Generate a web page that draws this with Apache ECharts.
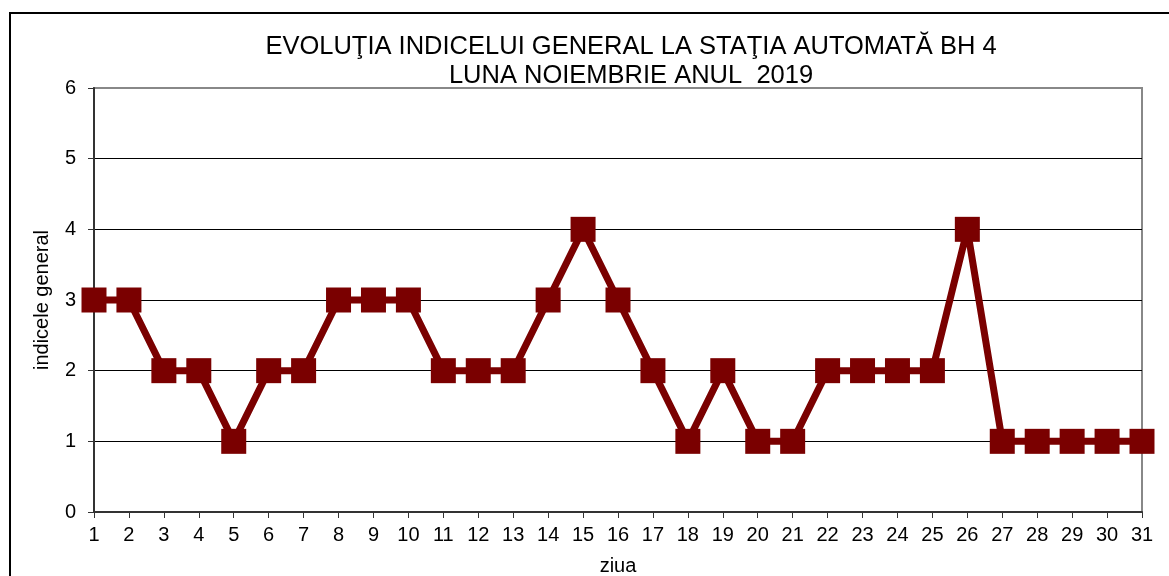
<!DOCTYPE html>
<html>
<head>
<meta charset="utf-8">
<script src="https://cdn.jsdelivr.net/npm/echarts@6/dist/echarts.min.js"></script>
<style>
  html, body { margin: 0; padding: 0; background: #fff; }
  #chart { width: 1169px; height: 576px; }
</style>
</head>
<body>
<div id="chart"></div>
<script>
// zilele lunii si indicele general
var zile = [];
for (var d = 1; d <= 31; d++) zile.push(String(d));
var indice = [3, 3, 2, 2, 1, 2, 2, 3, 3, 3, 2, 2, 2, 3, 4, 3, 2, 1, 2, 1, 1, 2, 2, 2, 2, 4, 1, 1, 1, 1, 1];

var titlu = 'EVOLUŢIA INDICELUI GENERAL LA STAŢIA AUTOMATĂ BH 4\nLUNA NOIEMBRIE ANUL  2019';

var chart = echarts.init(document.getElementById('chart'));
var font = 'Liberation Sans, Arial, sans-serif';

var option = {
  animation: false,
  backgroundColor: '#fff',
  title: {
    text: titlu,
    left: 626,
    textAlign: 'center',
    top: 27,
    textStyle: {
      fontFamily: font,
      fontWeight: 'normal',
      fontSize: 25.5,
      color: '#000',
      lineHeight: 29
    }
  },
  graphic: [{
    type: 'rect',
    shape: { x: 10, y: 13, width: 1200, height: 600 },
    style: { fill: 'none', stroke: '#000', lineWidth: 2 }
  }],
  grid: {
    left: 94,
    right: 27,
    top: 88,
    bottom: 64,
    outerBoundsMode: 'none',
    containLabel: false,
    show: true,
    borderColor: '#888',
    borderWidth: 2
  },
  xAxis: {
    type: 'category',
    data: zile,
    boundaryGap: false,
    name: 'ziua',
    nameLocation: 'middle',
    nameGap: 44,
    nameTextStyle: { fontFamily: font, fontSize: 20, color: '#000' },
    axisLine: { lineStyle: { color: '#333', width: 2 } },
    axisTick: { show: true, length: 6, lineStyle: { color: '#333' } },
    axisLabel: { fontFamily: font, fontSize: 20, color: '#000', margin: 13 }
  },
  yAxis: {
    type: 'value',
    min: 0,
    max: 6,
    interval: 1,
    name: 'indicele general',
    nameLocation: 'middle',
    nameGap: 42,
    nameTextStyle: { fontFamily: font, fontSize: 20, color: '#000' },
    axisLine: { show: true, lineStyle: { color: '#333', width: 2 } },
    axisTick: { show: true, length: 6, lineStyle: { color: '#333' } },
    axisLabel: { fontFamily: font, fontSize: 20, color: '#000', margin: 18 },
    splitLine: { lineStyle: { color: ['#000', '#000', '#000', '#000', '#000', '#000', '#888'], width: 1 } }
  },
  series: [{
    type: 'line',
    data: indice,
    symbol: 'rect',
    symbolSize: 25,
    lineStyle: { color: '#7a0000', width: 7 },
    itemStyle: { color: '#7a0000' }
  }]
};

chart.setOption(option);
</script>
</body>
</html>
